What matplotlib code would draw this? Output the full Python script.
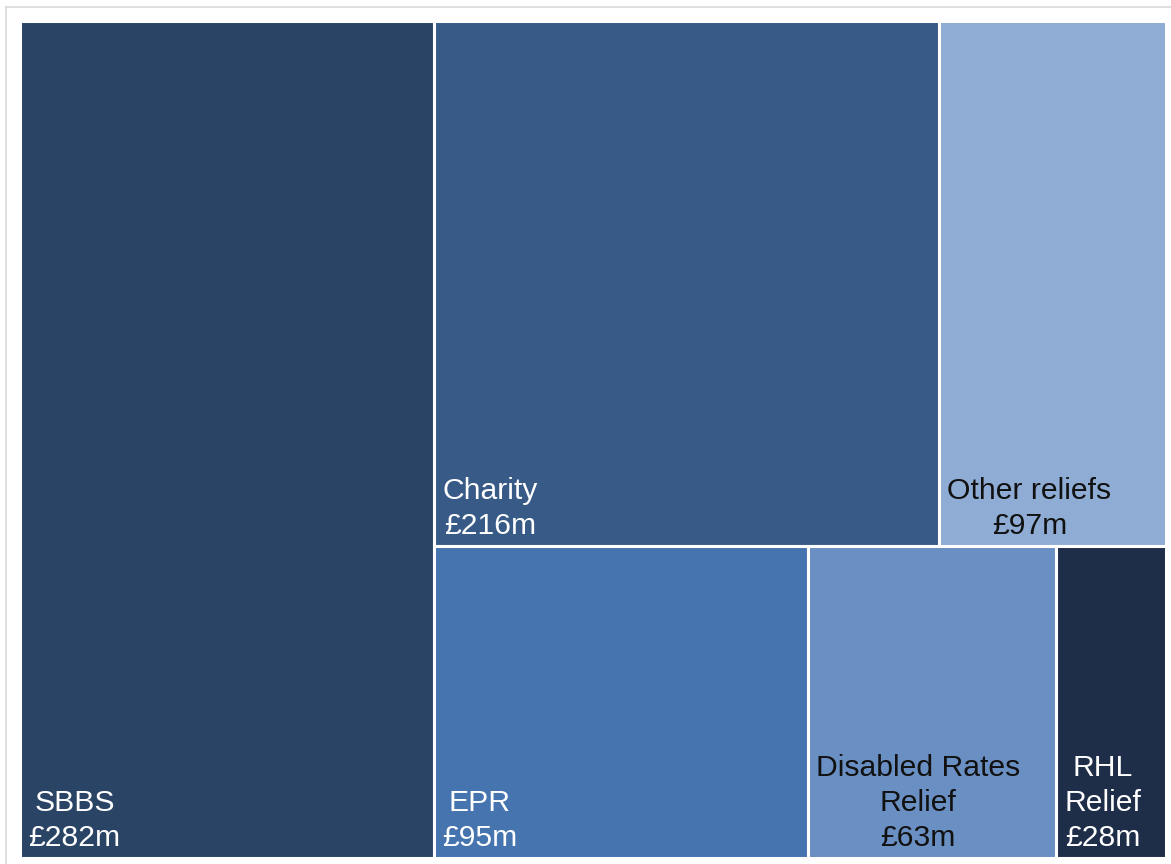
import matplotlib
matplotlib.use("Agg")
import matplotlib.pyplot as plt
from matplotlib.patches import Rectangle
from matplotlib.lines import Line2D

# Data
labels = ["SBBS", "Charity", "Other reliefs", "EPR", "Disabled Rates\nRelief", "RHL\nRelief"]
values = [282, 216, 97, 95, 63, 28]
colors = ["#2A4466", "#375A87", "#8FACD4", "#4674AE", "#6A8FC2", "#1F2E48"]
text_colors = ["white", "white", "#111111", "white", "#111111", "white"]
# layout structure: first item is a full-height column, the rest split into rows
top_row = [1, 2]
bottom_row = [3, 4, 5]

W, H = 1171, 864
fig = plt.figure(figsize=(W / 100, H / 100), dpi=100)
fig.patch.set_facecolor("white")

ax_left, ax_right, ax_top, ax_bottom = 20, 1166, 21, 858
ax = fig.add_axes([ax_left / W, (H - ax_bottom) / H,
                   (ax_right - ax_left) / W, (ax_bottom - ax_top) / H])
ax.set_xlim(0, 1)
ax.set_ylim(0, 1)
ax.axis("off")

total = sum(values)
rects = {}
w0 = values[0] / total
rects[0] = (0, 0, w0, 1)
rest = total - values[0]
top_sum = sum(values[i] for i in top_row)
bot_sum = sum(values[i] for i in bottom_row)
h_top = top_sum / rest
x = w0
for i in top_row:
    w = (1 - w0) * values[i] / top_sum
    rects[i] = (x, 1 - h_top, w, h_top)
    x += w
x = w0
for i in bottom_row:
    w = (1 - w0) * values[i] / bot_sum
    rects[i] = (x, 0, w, 1 - h_top)
    x += w

for i, lab in enumerate(labels):
    x0, y0, w, h = rects[i]
    ax.add_patch(Rectangle((x0, y0), w, h, facecolor=colors[i],
                           edgecolor="white", linewidth=2.2, clip_on=False))
    ax.annotate(f"{lab}\n£{values[i]}m", xy=(x0, y0), xytext=(6.0, 4.0),
                textcoords="offset points", ha="left", va="bottom",
                multialignment="center", color=text_colors[i],
                fontsize=21.7, family=["Liberation Sans", "DejaVu Sans"],
                linespacing=1.33)

# light frame lines (top and left)
fig.add_artist(Line2D([6 / W, 1], [1 - 7 / H, 1 - 7 / H], color="#D9D9D9",
                      linewidth=1.2, transform=fig.transFigure))
fig.add_artist(Line2D([6 / W, 6 / W], [0, 1 - 7 / H], color="#D9D9D9",
                      linewidth=1.2, transform=fig.transFigure))

fig.savefig("out.png", dpi=100)
